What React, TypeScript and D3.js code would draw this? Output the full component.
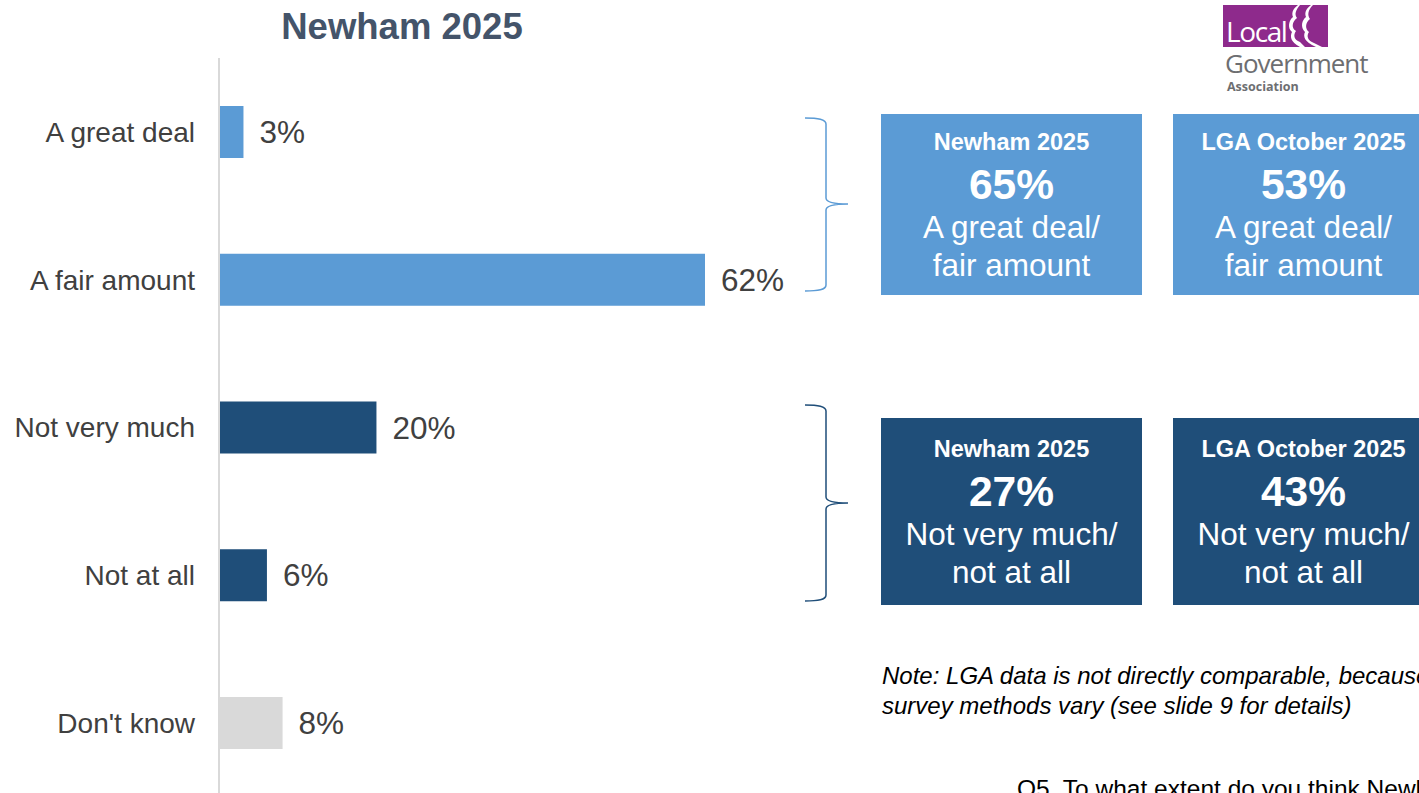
import React from "react";
import * as d3 from "d3";

const categories = ["A great deal", "A fair amount", "Not very much", "Not at all", "Don't know"];
const values = [3, 62, 20, 6, 8];
const barColors = ["#5b9bd5", "#5b9bd5", "#1f4e79", "#1f4e79", "#d9d9d9"];

const boxGroups = [
  { color: "#5b9bd5", lines: ["A great deal/", "fair amount"], items: [
    { title: "Newham 2025", value: "65%" },
    { title: "LGA October 2025", value: "53%" },
  ] },
  { color: "#1f4e79", lines: ["Not very much/", "not at all"], items: [
    { title: "Newham 2025", value: "27%" },
    { title: "LGA October 2025", value: "43%" },
  ] },
];

const noteLines = [
  "Note: LGA data is not directly comparable, because",
  "survey methods vary (see slide 9 for details)",
];
const questionText = "Q5. To what extent do you think Newham Council acts on the concerns of local residents?";

const W = 1419;
const H = 793;
const FONT = "Arial, 'Liberation Sans', Helvetica, sans-serif";

function bracePath(x0: number, x1: number, x2: number, yTop: number, yMid: number, yBot: number) {
  const p = d3.path();
  p.moveTo(x0, yTop);
  p.bezierCurveTo(x0 + 13, yTop, x1, yTop + 1, x1, yTop + 6);
  p.lineTo(x1, yMid - 6);
  p.bezierCurveTo(x1, yMid - 2, x1 + 9, yMid, x2, yMid);
  p.bezierCurveTo(x1 + 9, yMid, x1, yMid + 2, x1, yMid + 6);
  p.lineTo(x1, yBot - 6);
  p.bezierCurveTo(x1, yBot - 1, x0 + 13, yBot, x0, yBot);
  return p.toString();
}

export default function App() {
  const x = d3.scaleLinear().domain([0, 62]).range([220, 705]);
  const y = d3.scalePoint<string>().domain(categories).range([132, 723]);
  const barH = 52;

  const boxX = [881, 1173];
  const boxW = 261;
  const boxY = [114, 418];
  const boxH = [181, 187];

  const braces = [
    { top: 118, mid: 204, bot: 291, color: "#5b9bd5" },
    { top: 405, mid: 503, bot: 601, color: "#1f4e79" },
  ];

  return (
    <svg width={W} height={H} style={{ position: "absolute", left: 0, top: 0, background: "#fff" }} fontFamily={FONT}>
      <text x={402} y={39} textAnchor="middle" fontSize={36.5} fontWeight="bold" fill="#44546a">Newham 2025</text>

      {/* axis line */}
      <line x1={219} x2={219} y1={58} y2={H} stroke="#d9d9d9" strokeWidth={2} />

      {categories.map((c, i) => {
        const cy = y(c)!;
        return (
          <g key={c}>
            <rect x={x(0)} y={cy - barH / 2} width={x(values[i]) - x(0)} height={barH} fill={barColors[i]} />
            <text x={195} y={cy} dy="0.35em" textAnchor="end" fontSize={28} fill="#404040">{c}</text>
            <text x={x(values[i]) + 16} y={cy} dy="0.35em" fontSize={31.5} fill="#404040">{values[i] + "%"}</text>
          </g>
        );
      })}

      {braces.map((b, i) => (
        <path key={i} d={bracePath(805, 826, 848, b.top, b.mid, b.bot)} fill="none" stroke={b.color} strokeWidth={1.5} />
      ))}

      {boxGroups.map((g, gi) => (
        <g key={gi}>
          {g.items.map((it, ii) => {
            const bx = boxX[ii];
            const by = boxY[gi];
            const cx = bx + boxW / 2;
            const cy = by + boxH[gi] / 2;
            return (
              <g key={ii}>
                <rect x={bx} y={by} width={boxW} height={boxH[gi]} fill={g.color} />
                <text x={cx} y={cy - 62.5} dy="0.35em" textAnchor="middle" fontSize={23.5} fontWeight="bold" fill="#fff">{it.title}</text>
                <text x={cx} y={cy - 20.5} dy="0.35em" textAnchor="middle" fontSize={42.5} fontWeight="bold" fill="#fff">{it.value}</text>
                {g.lines.map((l, li) => (
                  <text key={li} x={cx} y={cy + 22.5 + li * 38} dy="0.35em" textAnchor="middle" fontSize={31.5} fill="#fff">{l}</text>
                ))}
              </g>
            );
          })}
        </g>
      ))}

      {noteLines.map((l, i) => (
        <text key={i} x={882} y={684 + i * 30} fontSize={24} fontStyle="italic" fill="#000">{l}</text>
      ))}

      <text x={1017} y={797} fontSize={24.5} fill="#000">{questionText}</text>

      {/* LGA logo */}
      <g>
        <rect x={1223} y={5} width={105} height={42} fill="#8e2a8c" />
        <text x={1226} y={42} fontSize={28} fill="#fff" fontFamily="'Open Sans', Arial, sans-serif" letterSpacing={-1.4}>Local</text>
        <path d="M1300,5 C1296,10 1294,14 1297,18 C1292,22 1291,28 1296,31 C1293,35 1294,40 1300,42 L1305,47 L1300,47 C1290,42 1290,36 1292,32 C1287,28 1289,20 1293,17 C1291,12 1294,8 1298,5 Z" fill="#fff" />
        <path d="M1313,5 C1308,10 1307,15 1310,19 C1305,23 1305,29 1309,32 C1306,36 1308,41 1314,43 L1322,47 L1316,47 C1304,42 1303,36 1305,32 C1300,27 1302,20 1306,17 C1304,12 1307,8 1311,5 Z" fill="#fff" />
        <text x={1225} y={73} fontSize={26} fill="#6d6e71" fontFamily="'Open Sans', Arial, sans-serif" letterSpacing={-1}>Government</text>
        <text x={1227} y={91} fontSize={12.5} fill="#6d6e71" fontFamily="'Open Sans', Arial, sans-serif" fontWeight="bold">Association</text>
      </g>
    </svg>
  );
}
